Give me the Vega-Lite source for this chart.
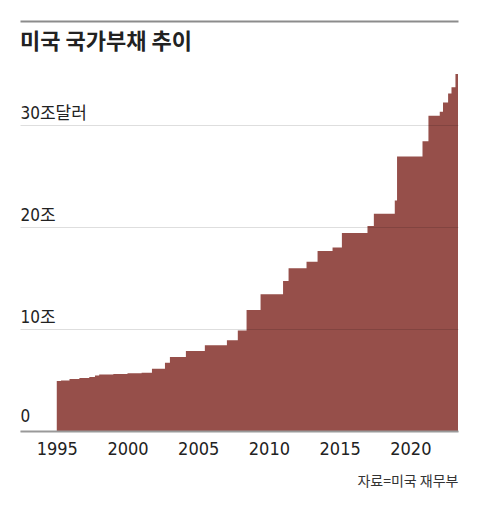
{
  "$schema": "https://vega.github.io/schema/vega-lite/v6.json",
  "width": 438,
  "height": 357,
  "autosize": "none",
  "padding": {"left": 20, "top": 74, "right": 22, "bottom": 79},
  "background": "white",
  "title": {
    "text": "미국 국가부채 추이",
    "anchor": "start",
    "frame": "group",
    "dy": 37,
    "font": "Noto Sans CJK KR",
    "fontSize": 22,
    "fontWeight": "bold",
    "color": "#222222"
  },
  "data": {
    "values": [
      {"year": 1995.0, "debt": 4.9},
      {"year": 1995.3, "debt": 4.95},
      {"year": 1995.9, "debt": 5.1},
      {"year": 1996.6, "debt": 5.2},
      {"year": 1997.3, "debt": 5.3},
      {"year": 1997.7, "debt": 5.45},
      {"year": 1998.0, "debt": 5.55},
      {"year": 1999.0, "debt": 5.6},
      {"year": 2000.0, "debt": 5.65},
      {"year": 2001.0, "debt": 5.7},
      {"year": 2001.73, "debt": 6.1},
      {"year": 2002.65, "debt": 6.7},
      {"year": 2003.0, "debt": 7.25},
      {"year": 2004.13, "debt": 7.85},
      {"year": 2005.47, "debt": 8.4},
      {"year": 2007.03, "debt": 8.9},
      {"year": 2007.8, "debt": 9.85},
      {"year": 2008.42, "debt": 11.86},
      {"year": 2009.41, "debt": 13.4},
      {"year": 2011.0, "debt": 14.7},
      {"year": 2011.39, "debt": 15.95},
      {"year": 2012.66, "debt": 16.6},
      {"year": 2013.44, "debt": 17.65},
      {"year": 2014.5, "debt": 18.0},
      {"year": 2015.16, "debt": 19.4},
      {"year": 2016.97, "debt": 20.1},
      {"year": 2017.42, "debt": 21.3},
      {"year": 2018.9, "debt": 22.6},
      {"year": 2019.06, "debt": 26.9},
      {"year": 2020.86, "debt": 28.4},
      {"year": 2021.28, "debt": 30.9},
      {"year": 2022.08, "debt": 31.3},
      {"year": 2022.31, "debt": 32.2},
      {"year": 2022.67, "debt": 33.1},
      {"year": 2022.91, "debt": 33.7},
      {"year": 2023.19, "debt": 35.0},
      {"year": 2023.37, "debt": 35.0}
    ]
  },
  "layer": [
    {
      "mark": {"type": "area", "interpolate": "step-after", "color": "#964f4a"},
      "encoding": {
        "x": {
          "field": "year",
          "type": "quantitative",
          "scale": {"domain": [1992.4, 2023.37], "nice": false, "zero": false},
          "axis": {
            "orient": "bottom",
            "values": [1995, 2000, 2005, 2010, 2015, 2020],
            "format": "d",
            "grid": false,
            "ticks": false,
            "domainColor": "#999999",
            "domainWidth": 2,
            "labelFont": "Liberation Sans Narrow, DejaVu Sans Condensed, Roboto, Noto Sans CJK KR",
            "labelFontSize": 18,
            "labelColor": "#222222",
            "labelPadding": 9,
            "labelFlush": false,
            "title": "자료=미국 재무부",
            "titleFont": "Noto Sans CJK KR",
            "titleFontSize": 14,
            "titleFontWeight": "normal",
            "titleColor": "#333333",
            "titleAnchor": "end",
            "titleAlign": "right",
            "titlePadding": 16,
            "zindex": 1
          }
        },
        "y": {
          "field": "debt",
          "type": "quantitative",
          "scale": {"domain": [0, 35], "nice": false},
          "axis": {
            "values": [0, 10, 20, 30],
            "labelExpr": "datum.value == 0 ? '0' : datum.value == 30 ? '30조달러' : datum.value + '조'",
            "domain": false,
            "ticks": false,
            "tickSize": 0,
            "grid": true,
            "gridColor": "#000000",
            "gridOpacity": 0.13,
            "gridWidth": 1,
            "labelAlign": "left",
            "labelBaseline": "alphabetic",
            "labelPadding": 0,
            "labelOffset": {"condition": {"test": "datum.value == 0", "value": -10}, "value": -7},
            "labelFont": "Liberation Sans Narrow, DejaVu Sans Condensed, Roboto, Noto Sans CJK KR",
            "labelFontSize": 17,
            "labelColor": "#222222",
            "title": null,
            "zindex": 1
          }
        }
      }
    },
    {
      "mark": {"type": "point", "opacity": 0},
      "encoding": {
        "x": {
          "field": "year",
          "type": "quantitative",
          "axis": {
            "orient": "top",
            "offset": 53,
            "labels": false,
            "ticks": false,
            "grid": false,
            "domainColor": "#8c8c8c",
            "domainWidth": 2,
            "title": null
          }
        },
        "y": {"field": "debt", "type": "quantitative"}
      }
    }
  ],
  "resolve": {"axis": {"x": "independent"}},
  "config": {
    "view": {"stroke": null}
  }
}
